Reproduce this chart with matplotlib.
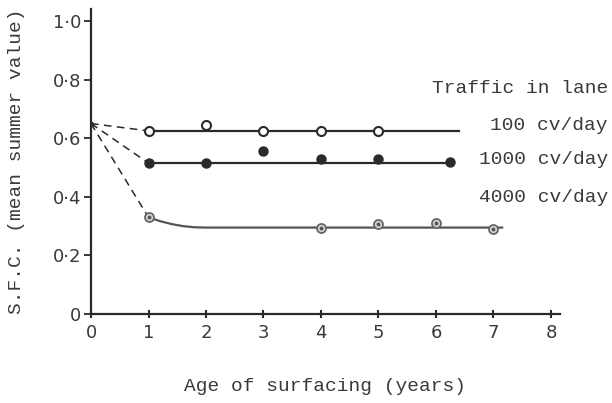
import matplotlib.pyplot as plt
import numpy as np

# start value common to all lanes
start_age = 0
start_sfc = 0.65

# 100 cv/day (open circles)
age_100 = [1, 2, 3, 4, 5]
sfc_100 = [0.625, 0.645, 0.625, 0.625, 0.625]
fit_100_x = [1, 6.4]
fit_100_y = [0.625, 0.625]

# 1000 cv/day (filled circles)
age_1000 = [1, 2, 3, 4, 5, 6.25]
sfc_1000 = [0.515, 0.515, 0.556, 0.53, 0.53, 0.52]
fit_1000_x = [1, 6.25]
fit_1000_y = [0.515, 0.515]

# 4000 cv/day (dotted circles)
age_4000 = [1, 4, 5, 6, 7]
sfc_4000 = [0.33, 0.293, 0.307, 0.31, 0.29]
fit_4000_x = [1, 1.2, 1.4, 1.6, 1.8, 2.0, 7.15]
fit_4000_y = [0.33, 0.317, 0.307, 0.300, 0.296, 0.295, 0.295]

x_ticks = [0, 1, 2, 3, 4, 5, 6, 7, 8]
y_ticks = [0, 0.2, 0.4, 0.6, 0.8, 1.0]
y_tick_labels = ['0', '0·2', '0·4', '0·6', '0·8', '1·0']

mono = 'Liberation Mono'
ink = '#2a2a2a'
txt = '#3a3a3a'

fig = plt.figure(figsize=(6.12, 4.03), dpi=100)
ax = fig.add_axes([0.1487, 0.2208, 0.7657, 0.7562])

# dashed extrapolation back to age 0
for y1 in [fit_100_y[0], fit_1000_y[0], fit_4000_y[0]]:
    ax.plot([start_age, 1], [start_sfc, y1], ls=(0, (5, 3.5)), color=ink, lw=1.1)
ax.plot([start_age], [start_sfc], 'o', color=ink, ms=3)

ax.plot(fit_100_x, fit_100_y, color=ink, lw=1.6)
ax.plot(fit_1000_x, fit_1000_y, color=ink, lw=1.6)
ax.plot(fit_4000_x, fit_4000_y, color='#555555', lw=1.6)

ax.plot(age_100, sfc_100, 'o', ms=6.5, mfc='white', mec=ink, mew=1.5)
ax.plot(age_1000, sfc_1000, 'o', ms=6.5, mfc=ink, mec=ink)
ax.plot(age_4000, sfc_4000, 'o', ms=6.5, mfc='#d8d8d8', mec='#666666', mew=1.3)
ax.plot(age_4000, sfc_4000, 'o', ms=1.8, color='#555555')

ax.set_xlim(0, 8.15)
ax.set_ylim(0, 1.04)
for s in ['top', 'right']:
    ax.spines[s].set_visible(False)
for s in ['left', 'bottom']:
    ax.spines[s].set_linewidth(1.6)
    ax.spines[s].set_color(ink)

ax.set_xticks(x_ticks)
ax.set_xticklabels([str(t) for t in x_ticks], fontsize=13, color=txt)
ax.set_yticks(y_ticks)
ax.set_yticklabels(y_tick_labels, fontsize=13, color=txt)
ax.tick_params(axis='x', direction='inout', length=6, width=1.5, color=ink, pad=4)
ax.tick_params(axis='y', direction='out', length=5, width=1.3, color=ink, pad=2)

ax.set_xlabel('Age of surfacing (years)', fontsize=14, family=mono, color=txt, labelpad=26)
ax.set_ylabel('S.F.C. (mean summer value)', fontsize=14, family=mono, color=txt, labelpad=20)

ax.text(8.99, 0.771, 'Traffic in lane', ha='right', va='center', fontsize=14, family=mono, color=txt, clip_on=False)
ax.text(8.99, 0.645, '100 cv/day', ha='right', va='center', fontsize=14, family=mono, color=txt, clip_on=False)
ax.text(8.99, 0.526, '1000 cv/day', ha='right', va='center', fontsize=14, family=mono, color=txt, clip_on=False)
ax.text(8.99, 0.396, '4000 cv/day', ha='right', va='center', fontsize=14, family=mono, color=txt, clip_on=False)

plt.savefig('out.png', dpi=100)
